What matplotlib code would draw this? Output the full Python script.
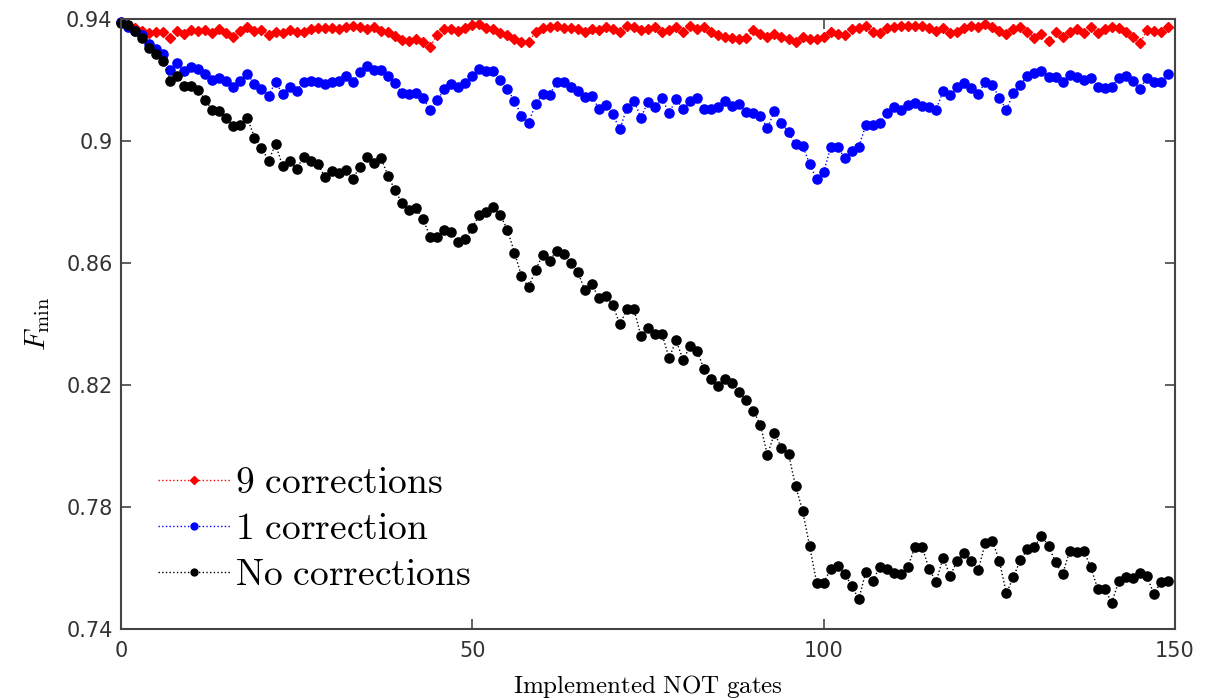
"""Minimum fidelity vs number of implemented NOT gates."""
import numpy as np
import matplotlib
matplotlib.use("Agg")
import matplotlib.pyplot as plt

plt.rcParams["mathtext.fontset"] = "cm"

# gate index 0..149
gates = np.arange(150)

# 9 corrections (red diamonds)
f_nine = [
    0.9390, 0.9380, 0.9369, 0.9362, 0.9353, 0.9358, 0.9356, 0.9339, 0.9362, 0.9351,
    0.9364, 0.9362, 0.9364, 0.9353, 0.9366, 0.9353, 0.9340, 0.9362, 0.9375, 0.9362,
    0.9364, 0.9348, 0.9358, 0.9353, 0.9364, 0.9358, 0.9358, 0.9366, 0.9369, 0.9369,
    0.9369, 0.9366, 0.9375, 0.9377, 0.9373, 0.9366, 0.9375, 0.9362, 0.9358, 0.9344,
    0.9331, 0.9329, 0.9333, 0.9326, 0.9309, 0.9348, 0.9366, 0.9366, 0.9362, 0.9369,
    0.9380, 0.9384, 0.9369, 0.9367, 0.9353, 0.9346, 0.9333, 0.9324, 0.9326, 0.9356,
    0.9369, 0.9373, 0.9378, 0.9369, 0.9369, 0.9366, 0.9356, 0.9366, 0.9364, 0.9373,
    0.9367, 0.9356, 0.9377, 0.9373, 0.9364, 0.9366, 0.9373, 0.9358, 0.9364, 0.9373,
    0.9358, 0.9377, 0.9367, 0.9373, 0.9356, 0.9348, 0.9340, 0.9337, 0.9333, 0.9337,
    0.9364, 0.9350, 0.9340, 0.9350, 0.9340, 0.9333, 0.9326, 0.9340, 0.9333, 0.9333,
    0.9342, 0.9358, 0.9351, 0.9348, 0.9367, 0.9369, 0.9377, 0.9356, 0.9353, 0.9369,
    0.9375, 0.9378, 0.9378, 0.9378, 0.9378, 0.9369, 0.9362, 0.9371, 0.9353, 0.9358,
    0.9369, 0.9378, 0.9375, 0.9384, 0.9375, 0.9362, 0.9351, 0.9366, 0.9373, 0.9358,
    0.9339, 0.9350, 0.9328, 0.9358, 0.9340, 0.9358, 0.9366, 0.9353, 0.9373, 0.9353,
    0.9366, 0.9373, 0.9371, 0.9358, 0.9340, 0.9320, 0.9364, 0.9362, 0.9358, 0.9373,
]

# 1 correction (blue circles)
f_one = [
    0.9390, 0.9375, 0.9360, 0.9348, 0.9317, 0.9301, 0.9285, 0.9233, 0.9255, 0.9231,
    0.9244, 0.9236, 0.9220, 0.9200, 0.9208, 0.9197, 0.9178, 0.9197, 0.9220, 0.9186,
    0.9169, 0.9148, 0.9194, 0.9154, 0.9178, 0.9165, 0.9194, 0.9198, 0.9192, 0.9186,
    0.9192, 0.9197, 0.9213, 0.9192, 0.9227, 0.9247, 0.9233, 0.9233, 0.9213, 0.9189,
    0.9158, 0.9154, 0.9156, 0.9140, 0.9102, 0.9134, 0.9169, 0.9186, 0.9176, 0.9189,
    0.9214, 0.9235, 0.9231, 0.9231, 0.9200, 0.9169, 0.9132, 0.9083, 0.9060, 0.9120,
    0.9153, 0.9151, 0.9192, 0.9194, 0.9178, 0.9164, 0.9143, 0.9149, 0.9105, 0.9118,
    0.9087, 0.9038, 0.9109, 0.9132, 0.9076, 0.9129, 0.9110, 0.9140, 0.9091, 0.9137,
    0.9105, 0.9131, 0.9140, 0.9105, 0.9105, 0.9113, 0.9132, 0.9116, 0.9121, 0.9094,
    0.9091, 0.9082, 0.9042, 0.9098, 0.9060, 0.9028, 0.8989, 0.8985, 0.8925, 0.8874,
    0.8897, 0.8981, 0.8981, 0.8943, 0.8968, 0.8981, 0.9052, 0.9052, 0.9058, 0.9093,
    0.9113, 0.9102, 0.9118, 0.9126, 0.9115, 0.9110, 0.9102, 0.9164, 0.9151, 0.9176,
    0.9191, 0.9175, 0.9154, 0.9194, 0.9184, 0.9142, 0.9102, 0.9158, 0.9184, 0.9214,
    0.9222, 0.9231, 0.9211, 0.9211, 0.9192, 0.9216, 0.9209, 0.9200, 0.9208, 0.9176,
    0.9173, 0.9178, 0.9208, 0.9213, 0.9197, 0.9169, 0.9208, 0.9194, 0.9194, 0.9220,
]

# no corrections (black circles)
f_none = [
    0.9388, 0.9380, 0.9360, 0.9339, 0.9304, 0.9285, 0.9263, 0.9198, 0.9213, 0.9180,
    0.9180, 0.9167, 0.9134, 0.9102, 0.9098, 0.9076, 0.9049, 0.9052, 0.9076, 0.9011,
    0.8978, 0.8935, 0.8989, 0.8919, 0.8935, 0.8908, 0.8949, 0.8934, 0.8925, 0.8883,
    0.8903, 0.8894, 0.8905, 0.8875, 0.8916, 0.8949, 0.8929, 0.8945, 0.8886, 0.8839,
    0.8796, 0.8774, 0.8779, 0.8743, 0.8686, 0.8686, 0.8708, 0.8701, 0.8668, 0.8678,
    0.8716, 0.8757, 0.8766, 0.8785, 0.8757, 0.8708, 0.8634, 0.8557, 0.8520, 0.8577,
    0.8626, 0.8607, 0.8640, 0.8630, 0.8599, 0.8572, 0.8511, 0.8531, 0.8485, 0.8493,
    0.8462, 0.8399, 0.8448, 0.8448, 0.8361, 0.8388, 0.8367, 0.8367, 0.8288, 0.8346,
    0.8282, 0.8328, 0.8311, 0.8251, 0.8220, 0.8197, 0.8220, 0.8206, 0.8176, 0.8151,
    0.8115, 0.8069, 0.7970, 0.8042, 0.7994, 0.7974, 0.7869, 0.7788, 0.7672, 0.7552,
    0.7552, 0.7596, 0.7608, 0.7580, 0.7542, 0.7497, 0.7588, 0.7558, 0.7604, 0.7596,
    0.7583, 0.7579, 0.7604, 0.7670, 0.7670, 0.7596, 0.7555, 0.7634, 0.7574, 0.7623,
    0.7650, 0.7623, 0.7593, 0.7683, 0.7690, 0.7623, 0.7517, 0.7570, 0.7627, 0.7661,
    0.7670, 0.7706, 0.7672, 0.7619, 0.7579, 0.7656, 0.7653, 0.7656, 0.7604, 0.7531,
    0.7531, 0.7486, 0.7557, 0.7570, 0.7566, 0.7583, 0.7574, 0.7514, 0.7555, 0.7558,
]

labels = [r"$\mathrm{9\ corrections}$", r"$\mathrm{1\ correction}$",
          r"$\mathrm{No\ corrections}$"]

fig = plt.figure(figsize=(12.07, 6.98), dpi=100)
ax = fig.add_axes([0.1002, 0.0989, 0.8733, 0.8739])

ax.plot(gates, f_nine, ":", color="red", marker="D", ms=5.2, lw=1.0,
        label=labels[0], clip_on=False)
ax.plot(gates, f_one, ":", color="blue", marker="o", ms=6.6, lw=1.0,
        label=labels[1], clip_on=False)
ax.plot(gates, f_none, ":", color="black", marker="o", ms=6.6, lw=1.0,
        label=labels[2], clip_on=False)

ax.set_xlim(0, 150)
ax.set_ylim(0.74, 0.94)
ax.set_xticks([0, 50, 100, 150])
ax.set_yticks([0.74, 0.78, 0.82, 0.86, 0.90, 0.94])
ax.set_yticklabels(["0.74", "0.78", "0.82", "0.86", "0.9", "0.94"])
ax.tick_params(direction="in", top=True, right=True, length=7, width=1.2,
               color="#444444", labelsize=15, labelcolor="#333333")
ax.tick_params(axis="x", pad=9, labelsize=15)
ax.tick_params(axis="y", pad=6)
for s in ax.spines.values():
    s.set_color("#444444")
    s.set_linewidth(1.5)

ax.set_xlabel(r"$\mathrm{Implemented\ NOT\ gates}$", fontsize=18, labelpad=8)
ax.set_ylabel(r"$F_{\min}$", fontsize=21, labelpad=10)

ax.legend(loc="lower left", bbox_to_anchor=(0.0035, 0.004), frameon=False,
          fontsize=27, handlelength=1.9, handletextpad=0.15, labelspacing=0.26,
          markerscale=0.75)

fig.savefig("out.png", dpi=100)
